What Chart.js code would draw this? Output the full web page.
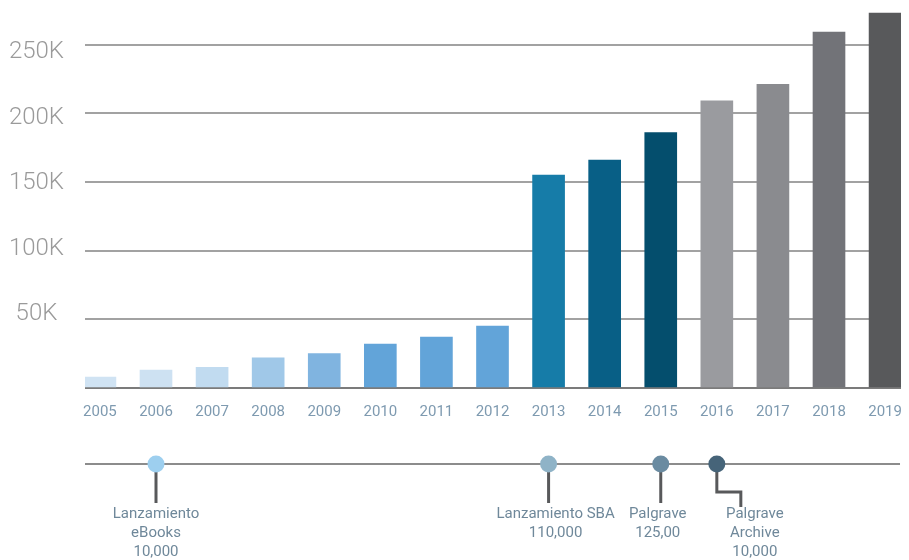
<!DOCTYPE html>
<html lang="es">
<head>
    <meta charset="UTF-8">
    <title>eBooks por año</title>
    <script src="https://cdn.jsdelivr.net/npm/chart.js"></script>
    <style>
        html, body { margin: 0; padding: 0; background: #fff; }
        #wrap { width: 909px; height: 560px; position: relative; }
    </style>
</head>
<body>
    <div id="wrap"><canvas id="ebooksChart"></canvas></div>

    <script>
        // Data
        const years = [2005, 2006, 2007, 2008, 2009, 2010, 2011, 2012, 2013, 2014, 2015, 2016, 2017, 2018, 2019];
        const titles = [8000, 13000, 15000, 22000, 25000, 32000, 37000, 45000, 155000, 166000, 186000, 209000, 221000, 259000, 273000];
        const yTickValues = [50000, 100000, 150000, 200000, 250000];

        const milestoneYears = [2006, 2013, 2015, 2016];
        const milestoneLabels = [
            ['Lanzamiento', 'eBooks', '10,000'],
            ['Lanzamiento SBA', '110,000'],
            ['Palgrave', '125,00'],
            ['Palgrave', 'Archive', '10,000']
        ];

        // Styles
        const barColors = ['#d0e3f3', '#cde1f2', '#c1dbf0', '#a0c8e8', '#80b4e0', '#62a4d9', '#62a4d9', '#62a4d9',
                           '#167ca8', '#085f86', '#044e6d', '#9a9b9f', '#8a8b8f', '#727378', '#58595b'];
        const milestoneColors = ['#9dcfef', '#8fb3c7', '#6a8ba1', '#466479'];
        const stemJog = [0, 0, 0, 24];
        const labelShift = [0, 7, -3, 14];
        const FONT = 'Roboto, "Open Sans", sans-serif';

        // Timeline under the bars, placed with the same x scale
        const timelinePlugin = {
            id: 'timeline',
            afterDraw(chart) {
                const { ctx, chartArea } = chart;
                const xScale = chart.scales.x;
                const lineY = 464;
                ctx.save();
                ctx.strokeStyle = '#8c8c8c';
                ctx.lineWidth = 2;
                ctx.beginPath();
                ctx.moveTo(chartArea.left, lineY);
                ctx.lineTo(chartArea.right - 1, lineY);
                ctx.stroke();

                milestoneYears.forEach((yr, i) => {
                    const px = xScale.getPixelForValue(yr);
                    const jog = stemJog[i];
                    ctx.strokeStyle = '#58595b';
                    ctx.lineWidth = 3;
                    ctx.beginPath();
                    ctx.moveTo(px, lineY);
                    if (jog) {
                        ctx.lineTo(px, 492);
                        ctx.lineTo(px + jog, 492);
                        ctx.lineTo(px + jog, 507);
                    } else {
                        ctx.lineTo(px, 503);
                    }
                    ctx.stroke();

                    ctx.fillStyle = milestoneColors[i];
                    ctx.beginPath();
                    ctx.arc(px, lineY, 8.5, 0, Math.PI * 2);
                    ctx.fill();

                    ctx.fillStyle = '#6f889a';
                    ctx.font = '15px ' + FONT;
                    ctx.textAlign = 'center';
                    ctx.textBaseline = 'middle';
                    const tx = px + jog + labelShift[i];
                    milestoneLabels[i].forEach((line, j) => {
                        ctx.fillText(line, tx, 514 + j * 19);
                    });
                });
                ctx.restore();
            }
        };

        const ctx = document.getElementById('ebooksChart').getContext('2d');
        const chart = new Chart(ctx, {
            type: 'bar',
            data: {
                datasets: [{
                    label: 'Títulos',
                    data: years.map((yr, i) => ({ x: yr, y: titles[i] })),
                    backgroundColor: barColors,
                    barThickness: 32,
                    yAxisID: 'y'
                }]
            },
            options: {
                responsive: true,
                maintainAspectRatio: false,
                animation: false,
                layout: { padding: { left: 0, right: 3, top: 0, bottom: 0 }, autoPadding: false },
                plugins: {
                    legend: { display: false },
                    tooltip: { enabled: false }
                },
                scales: {
                    x: {
                        type: 'linear',
                        offset: false,
                        min: 2004.734,
                        max: 2019.284,
                        grid: { display: false },
                        border: { display: false },
                        ticks: {
                            stepSize: 1,
                            includeBounds: false,
                            padding: 7,
                            color: '#7e9ab0',
                            font: { family: FONT, size: 15 },
                            callback: v => String(v)
                        },
                        afterFit: s => { s.height = 172; }
                    },
                    y: {
                        min: 0,
                        max: 282000,
                        position: 'left',
                        weight: 0,
                        border: { display: false },
                        grid: {
                            drawTicks: false,
                            lineWidth: 2,
                            color: c => (c.tick && c.tick.value === 0) ? '#7b7b7b' : '#a2a2a2'
                        },
                        ticks: { display: false },
                        afterBuildTicks: s => { s.ticks = [0, ...yTickValues].map(v => ({ value: v })); },
                        afterFit: s => { s.width = 21; }
                    },
                    // label-only axis: the reference labels sit on a slightly tighter spacing than the grid;
                    // tiny lineHeight stops the top label from pushing the plot area down
                    yl: {
                        min: -6095,
                        max: 289524,
                        position: 'left',
                        weight: 1,
                        border: { display: false },
                        grid: { display: false, drawTicks: false },
                        ticks: {
                            crossAlign: 'center',
                            padding: 0,
                            color: '#9a9a9a',
                            font: { family: FONT, size: 24, weight: '300', lineHeight: 0.05 },
                            callback: v => (v / 1000) + 'K'
                        },
                        afterBuildTicks: s => { s.ticks = yTickValues.map(v => ({ value: v })); },
                        afterFit: s => { s.width = 64; }
                    }
                }
            },
            plugins: [timelinePlugin]
        });
    </script>
</body>
</html>
